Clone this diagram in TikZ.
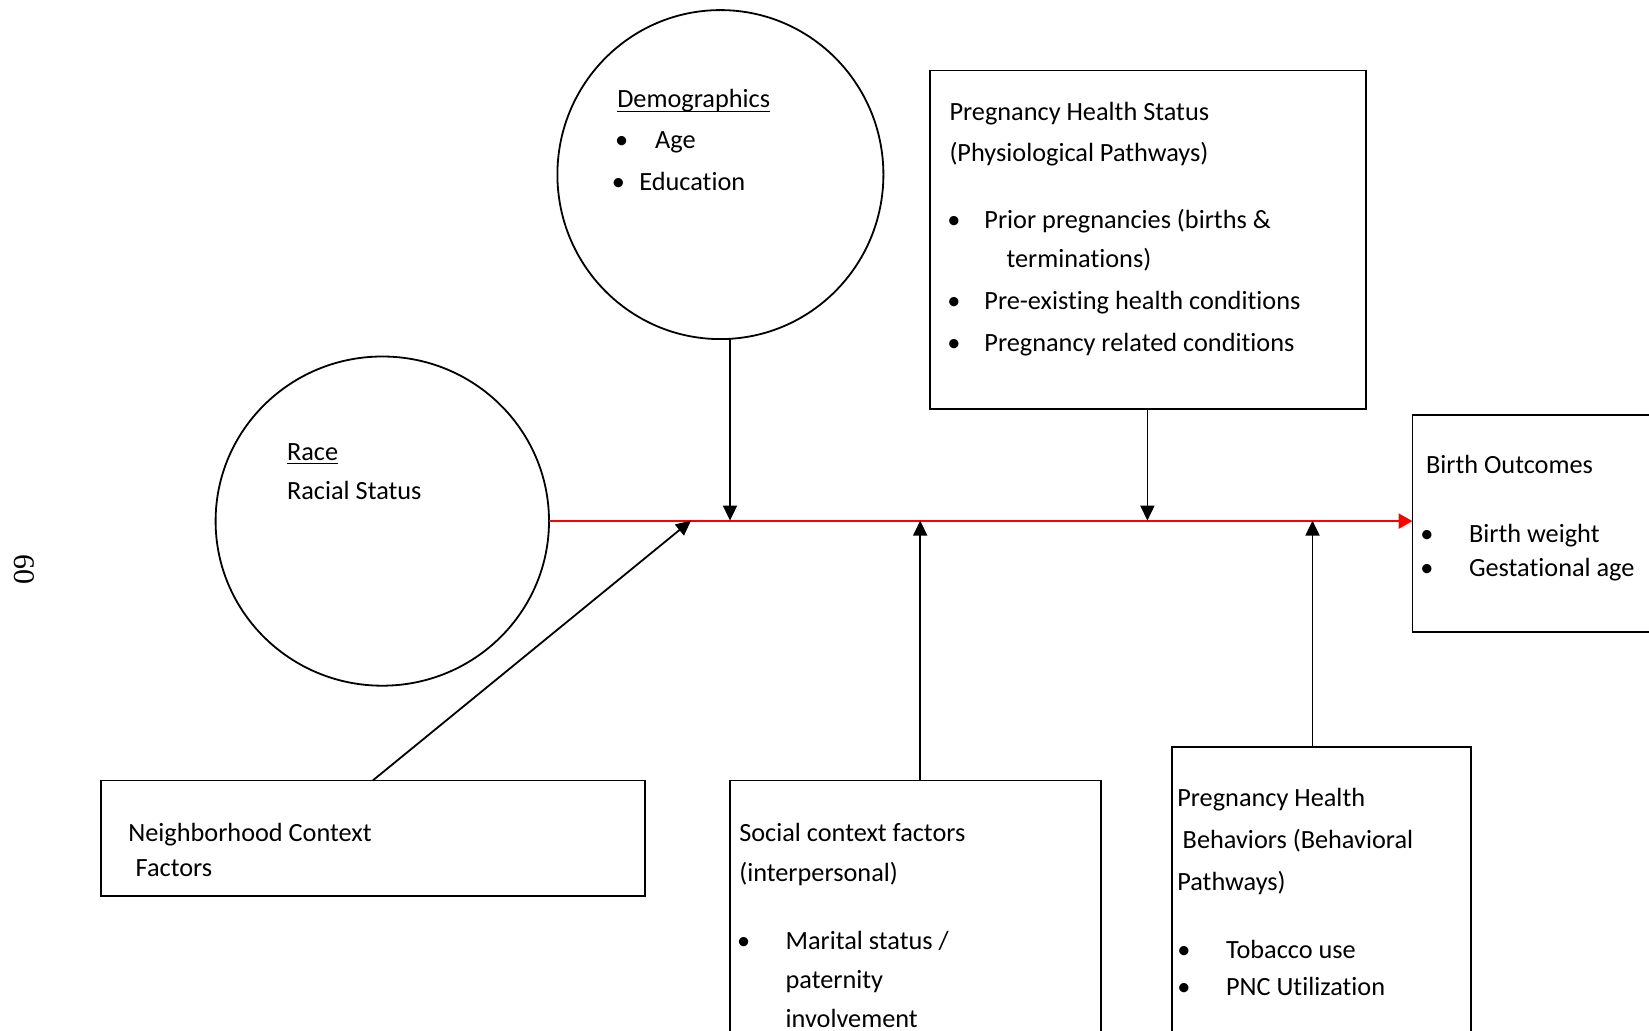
\documentclass[tikz,border=0pt]{standalone}
\usepackage{fontspec}
\setmainfont{Carlito}[Ligatures=NoCommon]
\newfontfamily\pnfont{Liberation Serif}
\usetikzlibrary{arrows.meta,shapes.geometric}
% underline drawn through the descenders, word-processor style
\newcommand\ulword[1]{\setbox0=\hbox{#1}\rlap{\rule[-2pt]{\wd0}{0.55pt}}\box0}

\begin{document}
\begin{tikzpicture}[x=0.5pt,y=-0.5pt,
  outline/.style={draw=black, line width=0.9pt, inner sep=0pt, outer sep=0pt},
  ring/.style={outline, ellipse},
  panel/.style={outline, rectangle, anchor=north west},
  tl/.style={anchor=base west, inner sep=0pt, outer sep=0pt, font=\fontsize{13.15}{16}\selectfont},
  bl/.style={anchor=base, inner sep=0pt, outer sep=0pt, font=\fontsize{13.15}{16}\selectfont},
  feed/.style={draw=black, line width=0.9pt, -{Triangle[length=7.5pt,width=7pt]}},
  mainline/.style={draw=red, line width=1.2pt, -{Triangle[length=7pt,width=7.5pt]}}
]
\useasboundingbox (0,0) rectangle (1649,1031);
\clip (0,0) rectangle (1649,1031);

% page number
\node[rotate=-90, inner sep=0pt, font=\fontsize{15}{15}\selectfont\pnfont] (pg) at (24,570) {60};

% shapes
\node[ring, minimum width=163pt, minimum height=164.5pt] (demo) at (720.4,174.6) {};
\node[ring, minimum width=166.7pt, minimum height=164.6pt] (race) at (382.3,521.1) {};
\node[panel, minimum width=218.25pt, minimum height=169.3pt] (phs) at (929.7,70.5) {};
\node[panel, minimum width=130pt, minimum height=108.3pt] (birth) at (1412.5,415.4) {};
\node[panel, minimum width=271.85pt, minimum height=57.8pt] (nbh) at (101,780.4) {};
\node[panel, minimum width=185.6pt, minimum height=150pt] (soc) at (729.9,780.4) {};
\node[panel, minimum width=149.85pt, minimum height=150pt] (beh) at (1171.6,746.7) {};

% Demographics
\node[tl] (demoT) at (617.3,108) {\ulword{Demographics}};
\node[bl] (demoB1) at (621.6,149) {•};
\node[tl] (demoL1) at (655.2,149) {Age};
\node[bl] (demoB2) at (618.4,191) {•};
\node[tl] (demoL2) at (639.4,191) {Education};

% Race
\node[tl] (raceT) at (287.1,460.5) {\ulword{Race}};
\node[tl] (raceL1) at (287.1,499.5) {Racial Status};

% Pregnancy health status
\node[tl] (phsT1) at (949.5,121) {Pregnancy Health Status};
\node[tl] (phsT2) at (949.5,162) {(Physiological Pathways)};
\node[bl] (phsB1) at (954,229) {•};
\node[tl] (phsL1) at (984.4,229) {Prior pregnancies (births \&};
\node[tl] (phsL1b) at (1006.5,268) {terminations)};
\node[bl] (phsB2) at (954,310) {•};
\node[tl] (phsL2) at (984.4,310) {Pre-existing health conditions};
\node[bl] (phsB3) at (954,352) {•};
\node[tl] (phsL3) at (984.4,352) {Pregnancy related conditions};

% Birth outcomes
\node[tl] (birthT) at (1426,474) {Birth Outcomes};
\node[bl] (birthB1) at (1427,543) {•};
\node[tl] (birthL1) at (1469,543) {Birth weight};
\node[bl] (birthB2) at (1427,577) {•};
\node[tl] (birthL2) at (1469,577) {Gestational age};

% Neighborhood context
\node[tl] (nbhT1) at (128.3,841) {Neighborhood Context};
\node[tl] (nbhT2) at (135.7,876) {Factors};

% Social context
\node[tl] (socT1) at (739.3,841) {Social context factors};
\node[tl] (socT2) at (739.3,881) {(interpersonal)};
\node[bl] (socB1) at (743.6,949) {•};
\node[tl] (socL1) at (785.6,949) {Marital status /};
\node[tl] (socL1b) at (785.6,988) {paternity};
\node[tl] (socL1c) at (785.6,1027) {involvement};

% Pregnancy health behaviors
\node[tl] (behT1) at (1177.3,806) {Pregnancy Health};
\node[tl] (behT2) at (1182.7,848) {Behaviors (Behavioral};
\node[tl] (behT3) at (1177.3,890) {Pathways)};
\node[bl] (behB1) at (1184,958) {•};
\node[tl] (behL1) at (1226,958) {Tobacco use};
\node[bl] (behB2) at (1184,995) {•};
\node[tl] (behL2) at (1226,995) {PNC Utilization};

% junctions on the main pathway
\coordinate (j1) at (730,520.6);
\coordinate (j2) at (1147.4,520.6);
\coordinate (j3) at (920.2,520.6);
\coordinate (j4) at (1312.5,520.6);
\coordinate (j5) at (691,520.6);

% connectors
\draw[mainline] (race.east) -- (race.east -| birth.west);
\draw[feed] (j1 |- demo.south) -- (j1);
\draw[feed] (j2 |- phs.south) -- (j2);
\draw[feed] (nbh.north) -- (j5);
\draw[feed] (j3 |- soc.north) -- (j3);
\draw[feed] (j4 |- beh.north) -- (j4);
\end{tikzpicture}
\end{document}
